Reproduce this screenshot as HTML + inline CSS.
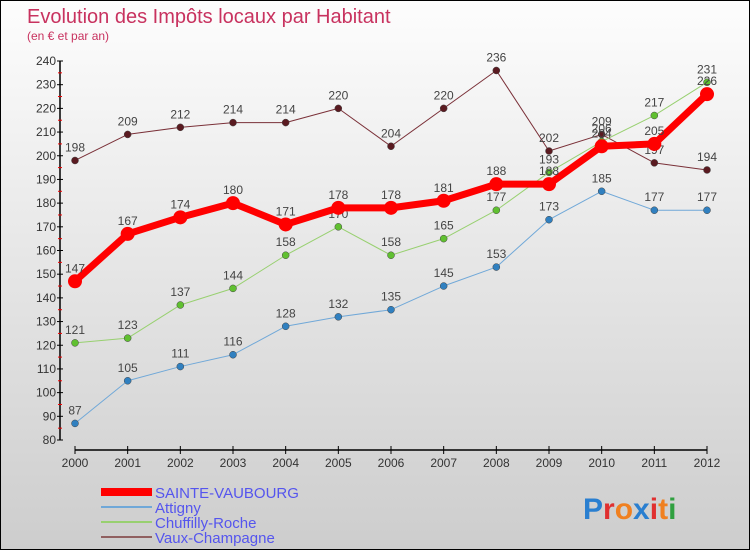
<!DOCTYPE html>
<html><head><meta charset="utf-8"><style>
body{margin:0}
#c{width:748px;height:548px;border:1px solid #000;background:linear-gradient(#fdfdfd,#cdcdcd);position:relative;font-family:"Liberation Sans",sans-serif}
</style></head><body>
<div id="c">
<svg id="s" width="748" height="548" style="position:absolute;left:0;top:0">
<text x="26" y="22" font-size="20" fill="#c8325f">Evolution des Impôts locaux par Habitant</text>
<text x="26" y="39" font-size="12" fill="#c8325f">(en € et par an)</text>
<g id="axes"></g><g id="series"></g><g id="legend"></g>
<text x="582" y="518" font-size="30" font-weight="bold"><tspan fill="#2a7fd0">P</tspan><tspan fill="#e03030">r</tspan><tspan fill="#f08020">o</tspan><tspan fill="#2a7fd0">x</tspan><tspan fill="#e03030">i</tspan><tspan fill="#f08020">t</tspan><tspan fill="#30a040">i</tspan></text>
</svg></div>
<script>
const years=[2000,2001,2002,2003,2004,2005,2006,2007,2008,2009,2010,2011,2012];
const yTicks=[80,90,100,110,120,130,140,150,160,170,180,190,200,210,220,230,240];
const sainte=[147,167,174,180,171,178,178,181,188,188,204,205,226];
const attigny=[87,105,111,116,128,132,135,145,153,173,185,177,177];
const chuffilly=[121,123,137,144,158,170,158,165,177,193,206,217,231];
const vaux=[198,209,212,214,214,220,204,220,236,202,209,197,194];
const NS="http://www.w3.org/2000/svg";
function X(i){return 74+i*(632/12);}
function Y(v){return 439-(v-80)*(379/160);}
function mk(t,a,p){const e=document.createElementNS(NS,t);for(const k in a)e.setAttribute(k,a[k]);(p||document.getElementById('axes')).appendChild(e);return e;}
const ax=document.getElementById('axes');
let e=mk('line',{x1:59,y1:Y(240),x2:59,y2:Y(80),stroke:'#000','stroke-width':1.5});

e=mk('line',{x1:74,y1:449,x2:706,y2:449,stroke:'#000','stroke-width':1.5});

yTicks.forEach((v,i)=>{mk('line',{x1:56,y1:Y(v),x2:62,y2:Y(v),stroke:'#000'});
 if(i<yTicks.length-1)mk('line',{x1:57,y1:Y(v+5),x2:61,y2:Y(v+5),stroke:'#e00'});
 const t=mk('text',{x:55,y:Y(v)+4,'font-size':12,'text-anchor':'end',fill:'#333'});t.textContent=v;
 });
years.forEach((y,i)=>{mk('line',{x1:X(i),y1:445,x2:X(i),y2:453,stroke:'#000'});
 const t=mk('text',{x:X(i),y:466,'font-size':12,'text-anchor':'middle',fill:'#333'});t.textContent=y;
 });
const sg=document.getElementById('series');
const defs=[[vaux,'#7a3038','#5a1a20',1,3.5,'vaux-champagne'],[chuffilly,'#98d070','#60c030',1,3.5,'chuffilly-roche'],[attigny,'#70a8d8','#3080c0',1,3.5,'attigny'],[sainte,'#f00','#f00',7,7,'sainte-vaubourg']];
defs.forEach(([d,lc,pc,w,r,n])=>{
 const g=mk('g',{},sg);
 mk('polyline',{points:d.map((v,i)=>X(i)+','+Y(v)).join(' '),fill:'none',stroke:lc,'stroke-width':w,'stroke-linejoin':'round'},g);
 d.forEach((v,i)=>{const c=mk('circle',{cx:X(i),cy:Y(v),r:r,fill:pc,stroke:w>1?'none':'#444','stroke-width':0.5},g);
  
  const t=mk('text',{x:X(i),y:Y(v)-9,'font-size':12,'text-anchor':'middle',fill:'#444'},g);t.textContent=v;
  });
});
const lg=document.getElementById('legend');
[['SAINTE-VAUBOURG','#f00',8],['Attigny','#70a8d8',2],['Chuffilly-Roche','#98d070',2],['Vaux-Champagne','#906060',2]].forEach(([n,c,w],i)=>{
 const y=493+i*15;
 const g=mk('g',{},lg);
 mk('line',{x1:100,y1:y-2,x2:151,y2:y-2,stroke:c,'stroke-width':w},g);
 const t=mk('text',{x:154,y:y+4,'font-size':15,fill:'#5555ee'},g);t.textContent=n;});
</script></body></html>
